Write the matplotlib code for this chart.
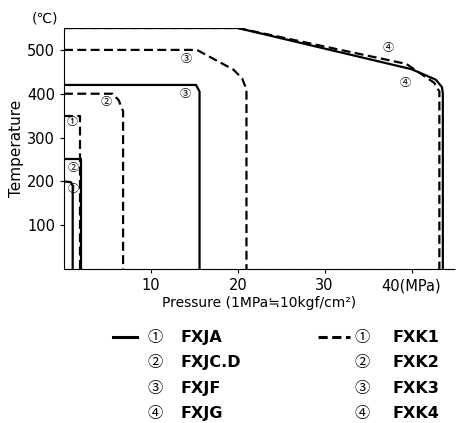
import matplotlib
matplotlib.use("Agg")
import matplotlib.pyplot as plt
from matplotlib.lines import Line2D

plt.rcParams['font.family'] = ['DejaVu Sans', 'Noto Sans CJK JP']
CJK = ['Noto Sans CJK JP', 'DejaVu Sans']

W, H = 476, 423

# pressure (MPa) / temperature (degC) outlines, solid = FXJ series
fxja_p = [0, 0.8, 1.0, 1.0]
fxja_t = [200, 198, 190, 0]
fxjcd_p = [0, 2.0, 2.0]
fxjcd_t = [250, 250, 0]
fxjf_p = [0, 15.2, 15.6, 15.6]
fxjf_t = [420, 420, 405, 0]
fxjg_p = [0, 20.0, 40.0, 42.8, 43.5, 43.6, 43.6]
fxjg_t = [550, 550, 456, 432, 415, 400, 0]

# dashed = FXK series
fxk1_p = [0, 1.8, 1.8]
fxk1_t = [350, 350, 0]
fxk2_p = [0, 5.6, 6.3, 6.8, 6.8]
fxk2_t = [400, 400, 385, 360, 0]
fxk3_p = [0, 15.3, 19.5, 20.5, 21.0, 21.0]
fxk3_t = [500, 500, 455, 435, 410, 0]
fxk4_p = [0, 20.0, 39.4, 42.6, 43.2, 43.2]
fxk4_t = [550, 550, 468, 425, 405, 0]

x_ticks = [10, 20, 30, 40]
y_ticks = [100, 200, 300, 400, 500]

# curve tags: (pressure, temperature, number)
tags = [(0.9, 335, '①'), (1.0, 183, '①'), (1.0, 230, '②'), (4.8, 380, '②'),
        (14.0, 400, '③'), (14.1, 480, '③'), (37.3, 505, '④'), (39.3, 425, '④')]

legend_solid = [('①', 'FXJA'), ('②', 'FXJC.D'), ('③', 'FXJF'), ('④', 'FXJG')]
legend_dash = [('①', 'FXK1'), ('②', 'FXK2'), ('③', 'FXK3'), ('④', 'FXK4')]

fig = plt.figure(figsize=(W / 100, H / 100), dpi=100)
ax = fig.add_axes([64 / W, 1 - 269 / H, (455 - 64) / W, (269 - 28) / H])

solid_kw = dict(color='black', lw=1.6, solid_joinstyle='round')
dash_kw = dict(color='black', lw=1.6, dashes=(4, 2))
for p, t in [(fxja_p, fxja_t), (fxjcd_p, fxjcd_t), (fxjf_p, fxjf_t), (fxjg_p, fxjg_t)]:
    ax.plot(p, t, **solid_kw)
for p, t in [(fxk1_p, fxk1_t), (fxk2_p, fxk2_t), (fxk3_p, fxk3_t), (fxk4_p, fxk4_t)]:
    ax.plot(p, t, **dash_kw)

for px, tt, s in tags:
    ax.text(px, tt, s, fontsize=8, ha='center', va='center', family=CJK)

ax.set_xlim(0, 45)
ax.set_ylim(0, 550)
ax.set_xticks(x_ticks)
ax.set_xticklabels(['10', '20', '30', '40(MPa)'])
ax.set_yticks(y_ticks)
ax.tick_params(direction='out', length=3, width=0.8, labelsize=10.5)
ax.spines['top'].set_visible(False)
ax.spines['right'].set_visible(False)
ax.spines['bottom'].set_linestyle((0, (1, 0.6)))
ax.set_xlabel('Pressure (1MPa≒10kgf/cm²)', fontsize=10, labelpad=2)
ax.set_ylabel('Temperature', fontsize=11, labelpad=2)
fig.text(45 / W, 1 - 18 / H, '(℃)', fontsize=10, ha='center', va='center')

# legend below the plot
rows_y = [337, 362, 388, 413]
for i, (num, name) in enumerate(legend_solid):
    y = 1 - rows_y[i] / H
    fig.text(155 / W, y, num, fontsize=11, ha='center', va='center', family=CJK)
    fig.text(180 / W, y, name, fontsize=11.5, fontweight='bold', va='center')
for i, (num, name) in enumerate(legend_dash):
    y = 1 - rows_y[i] / H
    fig.text(362 / W, y, num, fontsize=11, ha='center', va='center', family=CJK)
    fig.text(392 / W, y, name, fontsize=11.5, fontweight='bold', va='center')
y0 = 1 - rows_y[0] / H
fig.add_artist(Line2D([113 / W, 137 / W], [y0, y0], color='black', lw=2.2))
fig.add_artist(Line2D([318 / W, 350 / W], [y0, y0], color='black', lw=2.2, dashes=(3, 1.5)))

fig.savefig('out.png', dpi=100)
